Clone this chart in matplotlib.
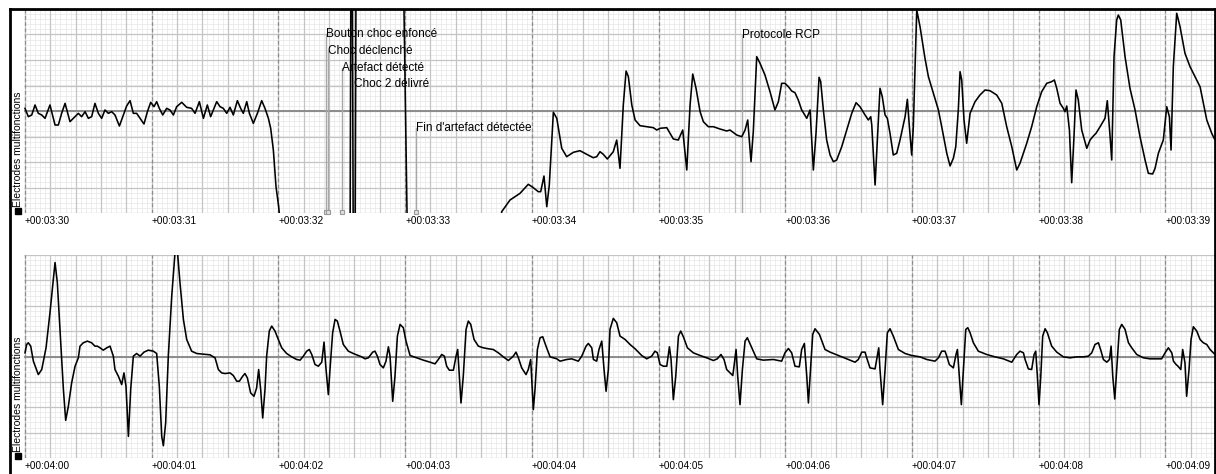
import numpy as np
import matplotlib
matplotlib.use("Agg")
import matplotlib.pyplot as plt
from matplotlib.lines import Line2D

plt.rcParams['font.family'] = ['Liberation Sans', 'DejaVu Sans']

# ECG strip, time in s from strip start, amplitude in mV (0.5 mV per big square)
top_start = 210   # +00:03:30
bot_start = 240   # +00:04:00
strip_len = 9.392

top_t = [0.000, 0.026, 0.053, 0.079, 0.105, 0.132, 0.158, 0.197, 0.237, 0.263,
         0.289, 0.316, 0.355, 0.395, 0.421, 0.447, 0.474, 0.500, 0.526, 0.552,
         0.579, 0.605, 0.631, 0.658, 0.684, 0.710, 0.745, 0.776, 0.802, 0.829,
         0.855, 0.881, 0.908, 0.939, 0.966, 0.992, 1.018, 1.039, 1.060, 1.087,
         1.118, 1.144, 1.171, 1.197, 1.237, 1.276, 1.315, 1.342, 1.376, 1.408,
         1.439, 1.465, 1.486, 1.513, 1.539, 1.565, 1.592, 1.618, 1.644, 1.676,
         1.702, 1.723, 1.750, 1.771, 1.802, 1.834, 1.868, 1.894, 1.921, 1.939,
         1.960, 1.981, 2.002, 2.007, 2.030, 2.565, 2.573, 2.583, 2.591, 2.605,
         2.613, 2.985, 2.991, 3.015, 3.030, 3.740, 3.762, 3.828, 3.907, 3.972,
         4.012, 4.051, 4.070, 4.096, 4.118, 4.138, 4.170, 4.197, 4.236, 4.275,
         4.328, 4.380, 4.433, 4.485, 4.512, 4.538, 4.564, 4.596, 4.643, 4.670,
         4.696, 4.722, 4.744, 4.762, 4.789, 4.815, 4.854, 4.907, 4.959, 4.986,
         5.012, 5.065, 5.091, 5.117, 5.156, 5.191, 5.223, 5.249, 5.270, 5.296,
         5.328, 5.354, 5.393, 5.433, 5.485, 5.538, 5.564, 5.617, 5.657, 5.683,
         5.704, 5.730, 5.748, 5.775, 5.801, 5.840, 5.880, 5.919, 5.946, 5.972,
         5.998, 6.025, 6.051, 6.077, 6.103, 6.130, 6.170, 6.196, 6.222, 6.243,
         6.267, 6.280, 6.301, 6.327, 6.354, 6.380, 6.406, 6.446, 6.485, 6.525,
         6.559, 6.590, 6.630, 6.656, 6.675, 6.683, 6.709, 6.727, 6.748, 6.766,
         6.788, 6.806, 6.827, 6.853, 6.880, 6.906, 6.946, 6.964, 6.980, 6.998,
         7.011, 7.038, 7.064, 7.103, 7.130, 7.169, 7.209, 7.235, 7.275, 7.301,
         7.327, 7.346, 7.366, 7.380, 7.393, 7.411, 7.432, 7.459, 7.498, 7.537,
         7.577, 7.616, 7.669, 7.709, 7.748, 7.788, 7.827, 7.853, 7.906, 7.945,
         7.985, 8.024, 8.064, 8.103, 8.124, 8.143, 8.169, 8.195, 8.208, 8.222,
         8.243, 8.261, 8.279, 8.295, 8.313, 8.340, 8.380, 8.406, 8.432, 8.453,
         8.485, 8.524, 8.542, 8.564, 8.577, 8.595, 8.616, 8.629, 8.648, 8.682,
         8.721, 8.761, 8.800, 8.840, 8.866, 8.900, 8.919, 8.945, 8.984, 9.011,
         9.032, 9.045, 9.063, 9.090, 9.116, 9.155, 9.195, 9.248, 9.274, 9.300,
         9.327, 9.366, 9.392]
top_mv = [0.052, -0.111, -0.078, 0.118, -0.046, -0.078, -0.144, 0.118, -0.275, -0.275,
          -0.046, 0.150, -0.209, -0.111, -0.046, -0.111, -0.013, -0.144, -0.111, 0.150,
          -0.046, -0.144, 0.020, -0.046, -0.013, -0.078, -0.294, -0.078, 0.098, 0.203,
          -0.046, -0.046, -0.144, -0.255, -0.013, 0.170, 0.085, 0.183, 0.052, -0.078,
          0.052, 0.020, -0.078, 0.085, 0.170, 0.072, 0.052, -0.046, 0.183, -0.144,
          0.118, -0.111, 0.020, 0.183, 0.085, 0.052, -0.046, 0.072, -0.078, 0.203,
          0.052, -0.046, 0.183, -0.046, -0.242, -0.046, 0.203, 0.052, -0.144, -0.340,
          -0.765, -1.484, -1.876, -2.007, -3.0, -3.0, 3.0, 3.0, -3.0, -3.0,
          3.0, 3.0, 2.0, -2.0, -3.0, -3.0, -1.975, -1.745, -1.614, -1.437,
          -1.504, -1.582, -1.582, -1.275, -1.876, -1.451, -0.025, -0.143, -0.731, -0.896,
          -0.810, -0.778, -0.849, -0.916, -0.896, -0.798, -0.849, -0.941, -0.798, -0.569,
          -1.124, 0.118, 0.784, 0.673, 0.118, -0.176, -0.288, -0.308, -0.327, -0.373,
          -0.339, -0.327, -0.437, -0.549, -0.569, -0.373, -1.157, 0.118, 0.725, 0.445,
          -0.014, -0.210, -0.308, -0.308, -0.353, -0.392, -0.373, -0.471, -0.504, -0.373,
          -0.176, -0.994, -0.406, 1.065, 0.935, 0.706, 0.378, 0.020, 0.182, 0.543,
          0.543, 0.476, 0.392, 0.359, 0.216, 0.020, -0.143, 0.020, -1.157, -0.437,
          0.661, 0.575, 0.020, -0.569, -0.863, -0.994, -0.961, -0.700, -0.373, -0.045,
          0.163, 0.084, -0.078, -0.176, -0.112, -0.275, -1.451, -0.569, 0.445, 0.280,
          -0.078, -0.143, -0.437, -0.863, -0.829, -0.569, -0.112, 0.229, -0.308, -0.863,
          -0.308, 1.980, 1.653, 1.033, 0.673, 0.347, 0.020, -0.308, -0.829, -1.078,
          -0.927, -0.700, 0.020, 0.771, 0.608, -0.176, -0.633, -0.045, 0.182, 0.314,
          0.412, 0.398, 0.314, 0.151, -0.308, -0.700, -1.157, -1.025, -0.633, -0.308,
          0.084, 0.378, 0.543, 0.575, 0.608, 0.445, 0.151, 0.053, -0.014, 0.098,
          -0.373, -1.406, -0.504, 0.412, 0.216, -0.373, -0.731, -0.569, -0.490, -0.437,
          -0.308, -0.143, 0.202, -0.504, -0.961, 1.065, 1.784, 1.882, 1.784, 1.065,
          0.445, 0.020, -0.504, -0.961, -1.222, -1.235, -1.124, -0.829, -0.569, 0.084,
          -0.112, -0.765, 0.869, 1.916, 1.653, 1.131, 0.869, 0.608, 0.476, 0.151,
          -0.176, -0.437, -0.569]

bot_t = [0.000, 0.013, 0.026, 0.045, 0.066, 0.105, 0.132, 0.166, 0.197, 0.218,
         0.237, 0.255, 0.276, 0.303, 0.321, 0.342, 0.368, 0.395, 0.421, 0.434,
         0.460, 0.492, 0.526, 0.552, 0.571, 0.592, 0.618, 0.645, 0.671, 0.697,
         0.710, 0.737, 0.763, 0.781, 0.797, 0.816, 0.834, 0.855, 0.881, 0.908,
         0.939, 0.973, 1.013, 1.039, 1.060, 1.079, 1.092, 1.110, 1.131, 1.158,
         1.184, 1.202, 1.223, 1.250, 1.276, 1.315, 1.355, 1.408, 1.460, 1.500,
         1.526, 1.552, 1.579, 1.618, 1.644, 1.671, 1.692, 1.718, 1.736, 1.755,
         1.781, 1.807, 1.828, 1.844, 1.860, 1.876, 1.894, 1.907, 1.928, 1.947,
         1.973, 1.999, 2.026, 2.065, 2.105, 2.144, 2.171, 2.197, 2.223, 2.244,
         2.263, 2.289, 2.315, 2.342, 2.360, 2.376, 2.394, 2.407, 2.428, 2.447,
         2.465, 2.486, 2.512, 2.552, 2.591, 2.631, 2.657, 2.684, 2.710, 2.744,
         2.762, 2.781, 2.802, 2.828, 2.849, 2.868, 2.881, 2.902, 2.920, 2.939,
         2.960, 2.986, 3.007, 3.039, 3.091, 3.144, 3.197, 3.236, 3.262, 3.289,
         3.310, 3.328, 3.349, 3.381, 3.402, 3.415, 3.428, 3.441, 3.459, 3.481,
         3.499, 3.518, 3.544, 3.578, 3.617, 3.657, 3.696, 3.736, 3.775, 3.815,
         3.854, 3.875, 3.894, 3.920, 3.954, 3.972, 3.991, 4.012, 4.025, 4.044,
         4.065, 4.086, 4.112, 4.144, 4.197, 4.223, 4.275, 4.315, 4.367, 4.394,
         4.428, 4.446, 4.473, 4.486, 4.512, 4.530, 4.552, 4.570, 4.586, 4.604,
         4.617, 4.643, 4.670, 4.696, 4.736, 4.775, 4.815, 4.867, 4.907, 4.946,
         4.972, 4.991, 5.012, 5.038, 5.065, 5.086, 5.099, 5.117, 5.136, 5.157,
         5.175, 5.196, 5.228, 5.275, 5.328, 5.380, 5.433, 5.464, 5.493, 5.517,
         5.538, 5.586, 5.596, 5.612, 5.625, 5.643, 5.662, 5.683, 5.701, 5.736,
         5.775, 5.827, 5.906, 5.972, 5.998, 6.025, 6.051, 6.077, 6.111, 6.130,
         6.151, 6.170, 6.183, 6.196, 6.217, 6.235, 6.270, 6.314, 6.354, 6.433,
         6.485, 6.551, 6.577, 6.604, 6.630, 6.643, 6.669, 6.709, 6.727, 6.738,
         6.748, 6.769, 6.788, 6.806, 6.827, 6.853, 6.893, 6.946, 6.998, 7.064,
         7.117, 7.182, 7.209, 7.235, 7.261, 7.275, 7.295, 7.327, 7.348, 7.359,
         7.372, 7.390, 7.406, 7.425, 7.441, 7.459, 7.485, 7.524, 7.590, 7.656,
         7.722, 7.788, 7.827, 7.853, 7.880, 7.893, 7.919, 7.945, 7.964, 7.977,
         7.990, 8.003, 8.017, 8.032, 8.051, 8.069, 8.103, 8.143, 8.195, 8.248,
         8.301, 8.353, 8.393, 8.419, 8.445, 8.472, 8.493, 8.511, 8.538, 8.559,
         8.572, 8.585, 8.601, 8.616, 8.637, 8.656, 8.682, 8.709, 8.735, 8.774,
         8.827, 8.879, 8.932, 8.971, 8.998, 9.024, 9.051, 9.064, 9.085, 9.100,
         9.122, 9.137, 9.155, 9.168, 9.187, 9.203, 9.221, 9.248, 9.274, 9.300,
         9.327, 9.353, 9.392]
bot_mv = [0.072, 0.237, 0.270, 0.204, -0.092, -0.356, -0.257, 0.171, 0.863, 1.390,
          1.851, 1.456, 0.534, -0.652, -1.258, -0.982, -0.520, -0.191, -0.026, 0.204,
          0.270, 0.303, 0.270, 0.204, 0.204, 0.171, 0.125, 0.171, 0.204, 0.007,
          -0.257, -0.389, -0.553, -0.323, -0.586, -1.574, -0.652, 0.007, 0.059, 0.007,
          0.086, 0.125, 0.105, 0.059, -0.586, -1.574, -1.759, -1.311, 0.007, 1.192,
          2.050, 2.100, 1.456, 0.731, 0.336, 0.105, 0.059, 0.046, 0.033, -0.026,
          -0.257, -0.323, -0.336, -0.323, -0.375, -0.487, -0.487, -0.389, -0.336, -0.422,
          -0.718, -0.784, -0.619, -0.257, -0.652, -1.212, -0.652, 0.007, 0.501, 0.599,
          0.501, 0.336, 0.171, 0.059, -0.007, -0.059, -0.072, 0.007, 0.105, 0.138,
          0.040, -0.158, -0.191, -0.112, 0.283, -0.257, -0.751, -0.257, 0.468, 0.731,
          0.698, 0.501, 0.237, 0.105, 0.059, 0.020, -0.007, -0.046, -0.026, 0.086,
          0.105, 0.007, -0.158, -0.224, -0.092, 0.191, 0.007, -0.883, -0.389, 0.402,
          0.632, 0.567, 0.303, 0.020, -0.026, -0.072, -0.112, -0.145, -0.059, 0.040,
          0.007, -0.191, -0.270, -0.270, 0.007, 0.138, -0.389, -0.916, -0.389, 0.534,
          0.698, 0.632, 0.336, 0.204, 0.171, 0.152, 0.138, 0.072, -0.007, -0.079,
          0.007, 0.086, -0.026, -0.224, -0.356, -0.257, -0.059, -1.047, -0.652, 0.138,
          0.369, 0.389, 0.204, -0.007, -0.046, -0.092, -0.059, -0.046, -0.092, 0.007,
          0.204, 0.257, 0.171, -0.059, -0.092, 0.138, 0.303, -0.257, -0.685, -0.257,
          0.534, 0.751, 0.665, 0.402, 0.336, 0.237, 0.152, 0.020, -0.046, 0.007,
          0.105, 0.072, -0.158, -0.191, -0.191, 0.191, -0.059, -0.850, -0.389, 0.402,
          0.501, 0.389, 0.171, 0.072, 0.020, -0.026, -0.079, -0.046, 0.040, -0.059,
          -0.257, -0.375, -0.191, 0.138, -0.389, -0.949, -0.257, 0.303, 0.369, 0.171,
          -0.046, -0.072, -0.059, -0.092, 0.072, 0.158, 0.072, -0.191, -0.204, 0.138,
          0.257, -0.389, -0.916, -0.389, 0.435, 0.547, 0.435, 0.138, 0.086, 0.007,
          -0.046, -0.112, -0.059, 0.086, 0.086, -0.026, -0.224, -0.244, 0.007, 0.171,
          -0.257, -0.949, -0.257, 0.468, 0.547, 0.402, 0.138, 0.059, 0.020, -0.007,
          -0.059, -0.092, -0.026, 0.105, 0.105, 0.007, -0.158, -0.224, 0.040, 0.138,
          -0.323, -0.949, -0.257, 0.534, 0.567, 0.468, 0.270, 0.105, 0.040, -0.007,
          -0.046, -0.112, 0.040, 0.105, 0.072, -0.059, -0.244, -0.257, 0.040, 0.105,
          -0.389, -0.949, -0.389, 0.402, 0.547, 0.468, 0.204, 0.086, -0.007, -0.026,
          -0.007, -0.007, 0.007, 0.072, 0.237, 0.270, 0.105, -0.059, -0.112, -0.059,
          0.204, -0.389, -0.837, -0.257, 0.534, 0.632, 0.534, 0.270, 0.171, 0.040,
          -0.026, -0.046, -0.046, -0.046, 0.072, 0.171, 0.072, -0.092, -0.158, -0.191,
          -0.257, 0.138, -0.125, -0.784, -0.257, 0.336, 0.586, 0.501, 0.336, 0.270,
          0.237, 0.138, 0.040]

# events on the first strip (time from strip start, label height in mV)
ev_labels = ["Bouton choc enfoncé", "Choc déclenché", "Artefact détecté",
             "Choc 2 délivré", "Fin d'artefact détectée", "Protocole RCP"]
ev_t = [2.376, 2.391, 2.502, 2.597, 3.086, 5.659]
ev_y = [1.51, 1.18, 0.84, 0.53, -0.33, 1.49]
ev_line = [True, True, True, False, True, True]
ev_box = [True, True, True, False, True, False]

lead = "Électrodes multifonctions"


def tlabel(s):
    return "+00:%02d:%02d" % (s // 60, s % 60)


def strip(ax, start, t, mv):
    x0, x1 = start - 0.008, start + strip_len
    ax.set_xlim(x0, x1)
    ax.set_ylim(-2, 2)
    for s in ax.spines.values():
        s.set_visible(False)
    # ecg paper
    ax.vlines(np.arange(start, x1, 0.04), -2, 2, color="#e6e6e6", lw=0.5, zorder=0)
    ax.hlines(np.arange(-2, 2.01, 0.1), x0, x1, color="#e6e6e6", lw=0.5, zorder=0)
    ax.vlines(np.arange(start, x1, 0.2), -2, 2, color="#c4c4c4", lw=0.9, zorder=1)
    ax.hlines(np.arange(-2, 2.01, 0.5), x0, x1, color="#c4c4c4", lw=0.9, zorder=1)
    ax.vlines(np.arange(start, x1, 1.0), -2, 2, color="#8c8c8c", lw=0.9,
              linestyles=(0, (3, 2)), zorder=2)
    ax.axhline(0, color="#8c8c8c", lw=1.4, zorder=2)
    ax.plot(start + np.array(t), mv, color="black", lw=1.15, zorder=5)
    secs = np.arange(start, start + 10)
    ax.set_xticks(secs)
    ax.set_xticklabels([tlabel(s) for s in secs], fontsize=7.2)
    for lab in ax.get_xticklabels():
        lab.set_ha("left")
    ax.tick_params(axis="x", length=0, pad=2)
    ax.set_yticks([])


fig = plt.figure(figsize=(12.16, 4.74), dpi=100)
ax1 = fig.add_axes([24 / 1216, 1 - 213 / 474, 1191 / 1216, 204 / 474])
ax2 = fig.add_axes([24 / 1216, 1 - 458 / 474, 1191 / 1216, 203 / 474])

strip(ax1, top_start, top_t, top_mv)
strip(ax2, bot_start, bot_t, bot_mv)

for lab, t, y, ln, bx in zip(ev_labels, ev_t, ev_y, ev_line, ev_box):
    x = top_start + t
    if ln:
        ax1.plot([x, x], [y, -2], color="#a8a8a8", lw=1.0, zorder=3)
    if bx:
        ax1.plot([x], [-1.98], marker="s", ms=3.5, mfc="#e0e0e0", mec="#999999",
                 mew=0.8, clip_on=False, zorder=6)
    ax1.text(x, y, lab, fontsize=8.5, ha="left", va="center", zorder=7)

# lead name, rotated, with the small black square under it
for ybot in (214, 459):
    fig.add_artist(Line2D([17.5 / 1216], [1 - (ybot - 3) / 474], marker="s", ms=4.5,
                          color="black", lw=0))
    fig.text(18 / 1216, 1 - (ybot - 7) / 474, lead, rotation=90, fontsize=7.5,
             ha="center", va="bottom")

# outer frame: left, top, right
for xs, ys in [([10, 10], [9, 474]), ([10, 1215], [9, 9]), ([1215, 1215], [9, 474])]:
    fig.add_artist(Line2D([v / 1216 for v in xs], [1 - v / 474 for v in ys],
                          color="black", lw=2.0))

fig.savefig("out.png", dpi=100)
